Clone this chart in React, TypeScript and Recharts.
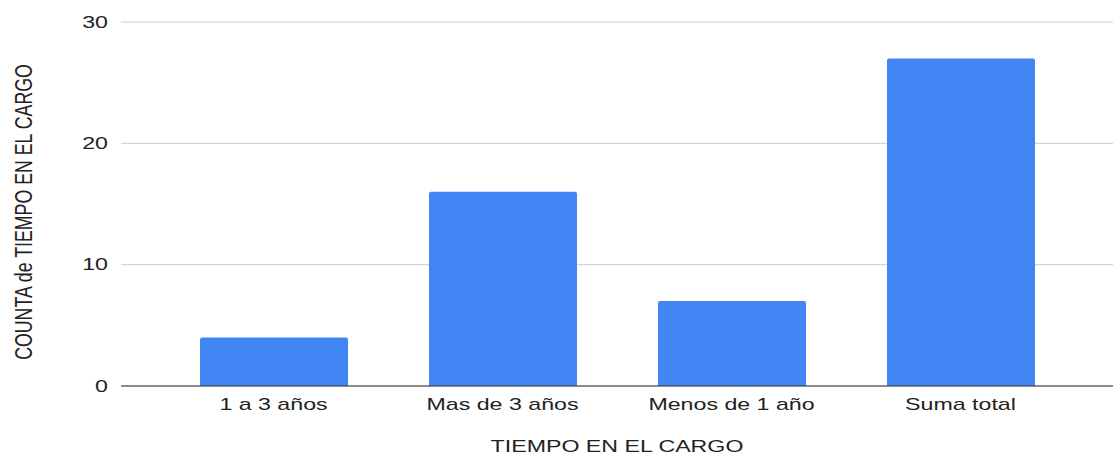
import { BarChart, Bar, XAxis, YAxis, CartesianGrid, Label } from "recharts";

const categories = ["1 a 3 años", "Mas de 3 años", "Menos de 1 año", "Suma total"];
const counts = [4, 16, 7, 27];
const yTicks = [0, 10, 20, 30];

const chartData = categories.map((name, i) => ({ name, count: counts[i] }));

const font = "'Liberation Sans', Arial, sans-serif";
// the reference text is drawn wide, so stretch it sideways
const stretch = 1.45;

const XTick = ({ x, y, payload }: any) => (
  <text
    transform={`translate(${x}, ${y + 8}) scale(${stretch}, 1)`}
    textAnchor="middle"
    dominantBaseline="central"
    fontFamily={font}
    fontSize={16}
    fill="#222"
  >
    {payload.value}
  </text>
);

const YTick = ({ x, y, payload }: any) => (
  <text
    transform={`translate(${x}, ${y}) scale(${stretch}, 1)`}
    textAnchor="end"
    dominantBaseline="central"
    fontFamily={font}
    fontSize={16}
    fill="#222"
  >
    {payload.value}
  </text>
);

const YTitle = ({ viewBox }: any) => {
  const cy = viewBox.y + viewBox.height / 2 + 8;
  return (
    <text
      transform={`translate(23, ${cy}) scale(1.5, 1.11) rotate(-90)`}
      textAnchor="middle"
      dominantBaseline="central"
      fontFamily={font}
      fontSize={16}
      fill="#222"
    >
      COUNTA de TIEMPO EN EL CARGO
    </text>
  );
};

const XTitle = ({ viewBox }: any) => (
  <text
    transform={`translate(${viewBox.x + viewBox.width / 2}, 446) scale(${stretch}, 1)`}
    textAnchor="middle"
    dominantBaseline="central"
    fontFamily={font}
    fontSize={16}
    fill="#222"
  >
    TIEMPO EN EL CARGO
  </text>
);

const App = () => {
  return (
    <div style={{ position: "absolute", left: 0, top: 0 }}>
      <BarChart
        width={1116}
        height={456}
        data={chartData}
        margin={{ top: 22, right: 3, left: 0, bottom: 0 }}
      >
        <CartesianGrid vertical={false} stroke="#cccccc" />
        <XAxis
          dataKey="name"
          height={70}
          padding={{ left: 38, right: 38 }}
          axisLine={{ stroke: "#333333" }}
          tickLine={false}
          tickSize={0}
          tickMargin={10}
          tick={<XTick />}
        >
          <Label content={<XTitle />} />
        </XAxis>
        <YAxis
          width={121}
          domain={[0, 30]}
          ticks={yTicks}
          axisLine={false}
          tickLine={false}
          tickSize={0}
          tickMargin={13}
          tick={<YTick />}
        >
          <Label content={<YTitle />} />
        </YAxis>
        <Bar
          dataKey="count"
          fill="#4285f4"
          barSize={148}
          radius={[2, 2, 0, 0]}
          isAnimationActive={false}
        />
      </BarChart>
    </div>
  );
};

export default App;
